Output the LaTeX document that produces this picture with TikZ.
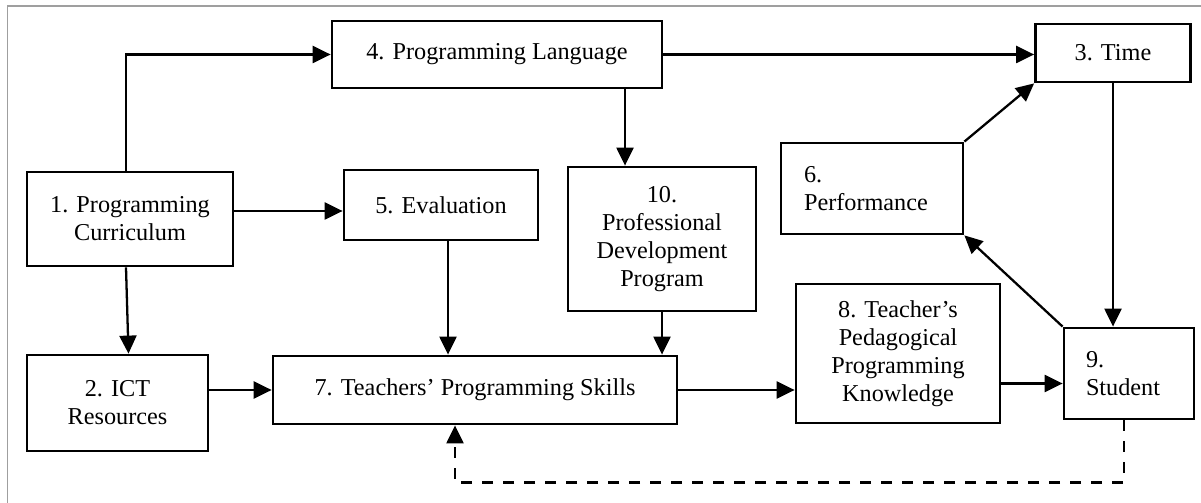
\documentclass[tikz,border=0pt]{standalone}
\usepackage{fontspec}
\setmainfont{Liberation Serif}
\usepackage{tikz}
\usetikzlibrary{arrows.meta, calc}

\begin{document}
\begin{tikzpicture}[
  x=0.02cm, y=-0.02cm,
  font=\fontsize{13.8}{15.9}\selectfont,
  blk/.style={draw, line width=1.6pt, align=center, inner sep=0pt},
  blkL/.style={draw, line width=1.6pt, align=left, inner ysep=0pt},
  arr/.style={-{Triangle[length=0.36cm, width=0.34cm]}, line width=1.3pt},
  darr/.style={arr, dash pattern=on 0.22cm off 0.2cm},
  frame/.style={draw=gray!75, line width=0.8pt}
]

\useasboundingbox (0,0) rectangle (1201,503);
\draw[frame] (7.5,503) |- (1201,6);

% upper row
\node[blk, minimum width=6.6cm, minimum height=1.34cm] (b4) at (497,54.5) {4. Programming Language};
\node[blk, minimum width=3.1cm, minimum height=1.16cm] (b3) at (1113,53) {3. Time};

% middle row
\node[blk, minimum width=4.12cm, minimum height=1.88cm] (b1) at (130,219) {1. Programming\\Curriculum};
\node[blk, minimum width=3.88cm, minimum height=1.4cm] (b5) at (441,205) {5. Evaluation};
\node[blk, minimum width=3.76cm, minimum height=2.88cm] (b10) at (662,239) {10.\\Professional\\Development\\Program};
\node[blkL, text width=2.72cm, inner xsep=0.46cm, minimum height=1.82cm] (b6) at (872,188.5) {6.\\Performance};

% lower row
\node[blk, minimum width=3.62cm, minimum height=1.92cm] (b2) at (117.5,403) {2. ICT\\Resources};
\node[blk, minimum width=8.08cm, minimum height=1.36cm] (b7) at (475,390) {7. Teachers’ Programming Skills};
\node[blk, minimum width=4.08cm, minimum height=2.78cm] (b8) at (898,353.5) {8. Teacher’s\\Pedagogical\\Programming\\Knowledge};
\node[blkL, text width=1.72cm, inner xsep=0.44cm, minimum height=1.82cm] (b9) at (1129,373.5) {9.\\Student};

% links
\draw[arr] ($(b1.north)+(-4,0)$) |- (b4);
\draw[arr] (b4.east) -- (b4.east -| b3.west);
\draw[arr] ($(b1.east)+(0,-8)$) -- ($(b5.west)+(0,6)$);
\draw[arr] ($(b1.south)+(-4,0)$) -- ($(b2.north)+(11,0)$);
\coordinate (c5) at ($(b5.south)+(7,0)$);
\draw[arr] (c5) -- (c5 |- b7.north);
\draw[arr] (b2.east |- b7) -- (b7.west);
\coordinate (c10) at ($(b10.north)+(-37,0)$);
\draw[arr] (c10 |- b4.south) -- (c10);
\draw[arr] (b10.south) -- (b10.south |- b7.north);
\draw[arr] (b7.east) -- (b7.east -| b8.west);
\coordinate (c9) at ($(b9.west)+(0,10)$);
\draw[arr] (b8.east |- c9) -- (c9);
\draw[arr] (b3.south) -- (b3.south |- b9.north);
\draw[arr] (b6.north east) -- (b3.south west);
\draw[arr] (b9.north west) -- (b6.south east);

% feedback
\draw[darr] ($(b9.south)+(-5,0)$) -- ++(0,62) -| ($(b7.south)+(-20,0)$);

\end{tikzpicture}
\end{document}
